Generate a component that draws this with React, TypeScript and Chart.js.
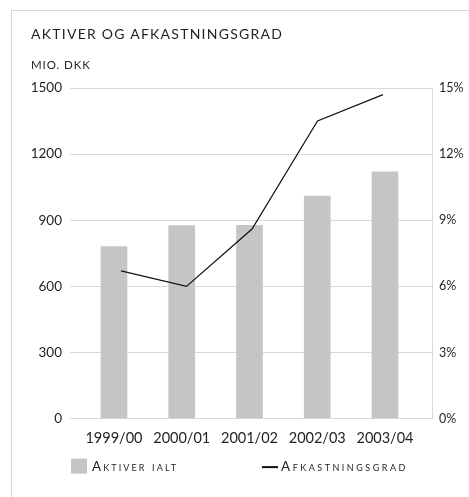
import React, { useEffect, useRef } from 'react';
import { Chart, registerables } from 'chart.js';

Chart.register(...registerables);

const categories = ['1999/00', '2000/01', '2001/02', '2002/03', '2003/04'];
const aktiver = [781, 876, 877, 1010, 1120];
const afkast = [6.7, 6.0, 8.6, 13.5, 14.7];
const leftTicks = [0, 300, 600, 900, 1200, 1500];
const rightTicks = [0, 3, 6, 9, 12, 15];
const chartTitle = 'AKTIVER OG AFKASTNINGSGRAD';
const unitLabel = 'MIO. DKK';
const seriesLabels = ['Aktiver ialt', 'Afkastningsgrad'];

const FONT = 'Lato, "DejaVu Sans", sans-serif';
const TEXT = '#231f20';
const BAR = '#c4c5c7';
const GRID = '#d9d9d9';

const legendPlugin = {
  id: 'customLegend',
  afterDraw(chart: any) {
    const ctx = chart.ctx;
    const area = chart.chartArea;
    const ds = chart.data.datasets;
    const y = area.bottom + 48;
    ctx.save();
    const x1 = area.left + 1;
    ctx.fillStyle = ds[0].backgroundColor;
    ctx.fillRect(x1, y - 8, 16, 15);
    ctx.font = `small-caps 13.5px ${FONT}`;
    ctx.fillStyle = TEXT;
    ctx.textBaseline = 'middle';
    ctx.textAlign = 'left';
    try { (ctx as any).letterSpacing = '2.1px'; } catch (e) {}
    ctx.fillText(ds[0].label, x1 + 21, y);
    const x2 = area.left + 192;
    ctx.strokeStyle = ds[1].borderColor;
    ctx.lineWidth = 2;
    ctx.beginPath();
    ctx.moveTo(x2, y + 0.5);
    ctx.lineTo(x2 + 16, y + 0.5);
    ctx.stroke();
    try { (ctx as any).letterSpacing = '2.5px'; } catch (e) {}
    ctx.fillText(ds[1].label, x2 + 19, y);
    ctx.restore();
  },
};

export default function App() {
  const canvasRef = useRef<HTMLCanvasElement>(null);

  useEffect(() => {
    if (!canvasRef.current) return;
    const chart = new Chart(canvasRef.current, {
      type: 'bar',
      data: {
        datasets: [
          {
            type: 'bar',
            label: seriesLabels[0],
            data: aktiver.map((v, i) => ({ x: i, y: v })),
            backgroundColor: BAR,
            borderWidth: 0,
            barThickness: 26,
            grouped: false,
            xAxisID: 'x',
            yAxisID: 'y',
            order: 2,
          },
          {
            type: 'line',
            label: seriesLabels[1],
            data: afkast.map((v, i) => ({ x: i, y: v })),
            borderColor: '#111111',
            borderWidth: 1.2,
            pointRadius: 0,
            tension: 0,
            fill: false,
            xAxisID: 'x2',
            yAxisID: 'y2',
            order: 1,
          },
        ] as any,
      },
      plugins: [legendPlugin],
      options: {
        animation: false,
        responsive: true,
        maintainAspectRatio: false,
        layout: { padding: { left: 31, right: 4, top: 88, bottom: 47 } },
        plugins: {
          legend: { display: false },
          tooltip: { enabled: false },
          title: { display: false },
        },
        scales: {
          x: {
            type: 'linear',
            offset: false,
            min: -0.649,
            max: 4.694,
            afterBuildTicks: (scale: any) => {
              scale.ticks = categories.map((_, i) => ({ value: i }));
            },
            ticks: {
              autoSkip: false,
              maxRotation: 0,
              color: TEXT,
              font: { family: FONT, size: 14.5 },
              padding: 3,
              callback: (v: any) => categories[v] ?? '',
            },
            grid: { display: false, offset: false },
            border: { display: false },
          },
          x2: {
            type: 'linear',
            display: false,
            offset: false,
            min: -0.779,
            max: 4.748,
          },
          y: {
            type: 'linear',
            position: 'left',
            min: leftTicks[0],
            max: leftTicks[leftTicks.length - 1],
            afterBuildTicks: (scale: any) => {
              scale.ticks = leftTicks.map((v) => ({ value: v }));
            },
            afterFit: (scale: any) => {
              scale.width = 39;
            },
            ticks: {
              color: TEXT,
              font: { family: FONT, size: 13.5 },
              padding: 8,
              callback: (v: any) => String(v),
            },
            grid: { color: GRID, lineWidth: 1, drawTicks: false },
            border: { display: false },
          },
          y2: {
            type: 'linear',
            position: 'right',
            min: rightTicks[0],
            max: rightTicks[rightTicks.length - 1],
            afterBuildTicks: (scale: any) => {
              scale.ticks = rightTicks.map((v) => ({ value: v }));
            },
            afterFit: (scale: any) => {
              scale.width = 33;
            },
            ticks: {
              color: TEXT,
              font: { family: FONT, size: 12.5 },
              padding: 7,
              callback: (v: any) => `${v}%`,
            },
            grid: { display: false, drawTicks: false },
            border: { display: true, color: GRID, width: 1 },
          },
        },
      } as any,
    });
    return () => chart.destroy();
  }, []);

  return (
    <div style={{ position: 'fixed', left: 0, top: 0, width: 469, height: 497, background: '#fff', overflow: 'hidden' }}>
      <div
        style={{
          position: 'absolute',
          left: 11,
          top: 10,
          width: 480,
          height: 500,
          border: '1px solid #d6d6d6',
          boxSizing: 'border-box',
        }}
      />
      <div style={{ position: 'absolute', left: 0, top: 0, width: 469, height: 497 }}>
        <canvas ref={canvasRef} />
      </div>
      <div
        style={{
          position: 'absolute',
          left: 31,
          top: 27,
          font: `14px ${FONT}`,
          lineHeight: '14px',
          letterSpacing: '1.25px',
          color: TEXT,
          whiteSpace: 'nowrap',
        }}
      >
        {chartTitle}
      </div>
      <div
        style={{
          position: 'absolute',
          left: 31,
          top: 59,
          font: `11.5px ${FONT}`,
          lineHeight: '11.5px',
          letterSpacing: '0.9px',
          color: TEXT,
          whiteSpace: 'nowrap',
        }}
      >
        {unitLabel}
      </div>
    </div>
  );
}
